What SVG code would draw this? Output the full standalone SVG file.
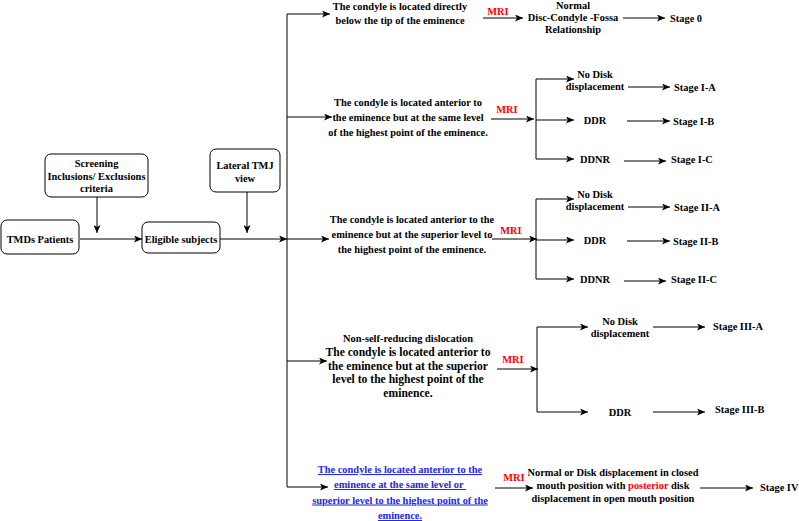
<svg xmlns="http://www.w3.org/2000/svg" width="799" height="521" viewBox="0 0 799 521">
<style>
.t{font-family:"Liberation Serif","Times New Roman",serif;font-weight:bold;font-size:10.4px;fill:#000}
.c{text-anchor:middle}
.m{fill:#ff0000}
.bl{fill:#2626e6;text-decoration:underline}
.big{font-size:11.6px}
.ln{stroke:#000;stroke-width:1;fill:none}
.box{stroke:#000;stroke-width:1;fill:#fff}
</style>
<defs>
<marker id="ah" viewBox="0 0 8 7" refX="8" refY="3.5" markerWidth="8" markerHeight="7" markerUnits="userSpaceOnUse" orient="auto">
<path d="M0,0 L8,3.5 L0,7 L2,3.5 z" fill="#000"/>
</marker>
</defs>
<rect width="799" height="521" fill="#fff"/>

<g id="connectors">
<line class="ln" x1="97" y1="197" x2="97" y2="233" marker-end="url(#ah)"/>
<line class="ln" x1="80" y1="239" x2="142" y2="239" marker-end="url(#ah)"/>
<line class="ln" x1="247" y1="192" x2="247" y2="233" marker-end="url(#ah)"/>
<line class="ln" x1="220" y1="239" x2="287" y2="239" marker-end="url(#ah)"/>
<path class="ln" d="M287,14 L287,487"/>
<line class="ln" x1="287" y1="14" x2="330" y2="14" marker-end="url(#ah)"/>
<line class="ln" x1="287" y1="117" x2="332" y2="117" marker-end="url(#ah)"/>
<line class="ln" x1="287" y1="239" x2="329" y2="239" marker-end="url(#ah)"/>
<line class="ln" x1="287" y1="361" x2="327" y2="361" marker-end="url(#ah)"/>
<line class="ln" x1="287" y1="487" x2="328" y2="487" marker-end="url(#ah)"/>
<!-- branch 1 -->
<line class="ln" x1="483" y1="18" x2="523" y2="18" marker-end="url(#ah)"/>
<line class="ln" x1="623" y1="18" x2="665" y2="18" marker-end="url(#ah)"/>
<!-- branch 2 -->
<line class="ln" x1="491" y1="119" x2="534" y2="119" marker-end="url(#ah)"/>
<path class="ln" d="M536,79 L536,159"/>
<line class="ln" x1="536" y1="79" x2="574" y2="79" marker-end="url(#ah)"/>
<line class="ln" x1="536" y1="120" x2="574" y2="120" marker-end="url(#ah)"/>
<line class="ln" x1="536" y1="159" x2="574" y2="159" marker-end="url(#ah)"/>
<line class="ln" x1="628" y1="87" x2="670" y2="87" marker-end="url(#ah)"/>
<line class="ln" x1="627" y1="121" x2="670" y2="121" marker-end="url(#ah)"/>
<line class="ln" x1="624" y1="161" x2="666" y2="161" marker-end="url(#ah)"/>
<!-- branch 3 -->
<line class="ln" x1="492" y1="239" x2="537" y2="239" marker-end="url(#ah)"/>
<path class="ln" d="M536,199 L536,279"/>
<line class="ln" x1="536" y1="199" x2="574" y2="199" marker-end="url(#ah)"/>
<line class="ln" x1="536" y1="240" x2="574" y2="240" marker-end="url(#ah)"/>
<line class="ln" x1="536" y1="279" x2="574" y2="279" marker-end="url(#ah)"/>
<line class="ln" x1="628" y1="207" x2="670" y2="207" marker-end="url(#ah)"/>
<line class="ln" x1="627" y1="241" x2="670" y2="241" marker-end="url(#ah)"/>
<line class="ln" x1="624" y1="281" x2="666" y2="281" marker-end="url(#ah)"/>
<!-- branch 4 -->
<line class="ln" x1="497" y1="369" x2="538" y2="369" marker-end="url(#ah)"/>
<path class="ln" d="M537,327 L537,412"/>
<line class="ln" x1="537" y1="327" x2="588" y2="327" marker-end="url(#ah)"/>
<line class="ln" x1="537" y1="412" x2="588" y2="412" marker-end="url(#ah)"/>
<line class="ln" x1="653" y1="327" x2="705" y2="327" marker-end="url(#ah)"/>
<line class="ln" x1="653" y1="412" x2="705" y2="412" marker-end="url(#ah)"/>
<!-- branch 5 -->
<line class="ln" x1="495" y1="488" x2="533" y2="488" marker-end="url(#ah)"/>
<line class="ln" x1="700" y1="488" x2="753" y2="488" marker-end="url(#ah)"/>
</g>

<g id="tmds-patients">
<rect class="box" x="1" y="220" width="78" height="34" rx="6"/>
<text class="t c" x="40" y="243">TMDs Patients</text>
</g>
<g id="screening">
<rect class="box" x="45" y="154" width="103" height="43" rx="6"/>
<text class="t c" x="96.5" y="167">Screening</text>
<text class="t c" x="96.5" y="179.5">Inclusions/ Exclusions</text>
<text class="t c" x="96.5" y="192">criteria</text>
</g>
<g id="eligible">
<rect class="box" x="142" y="222" width="78" height="31" rx="6"/>
<text class="t c" x="181" y="242.5">Eligible subjects</text>
</g>
<g id="lateral">
<rect class="box" x="210" y="149" width="70" height="43" rx="6"/>
<text class="t c" x="245" y="169">Lateral TMJ</text>
<text class="t c" x="245" y="181.5">view</text>
</g>

<g id="branch1">
<text class="t c" x="400" y="9.5">The condyle is located directly</text>
<text class="t c" x="400" y="24">below the tip of the eminence</text>
<text class="t c m" x="498" y="15">MRI</text>
<text class="t c" x="573" y="8.5">Normal</text>
<text class="t c" x="573" y="21">Disc-Condyle -Fossa</text>
<text class="t c" x="573" y="33">Relationship</text>
<text class="t" x="670" y="22">Stage 0</text>
</g>

<g id="branch2">
<text class="t c" x="408" y="105.5">The condyle is located anterior to</text>
<text class="t c" x="408" y="120.5">the eminence but at the same level</text>
<text class="t c" x="408" y="135.5">of the highest point of the eminence.</text>
<text class="t c m" x="507" y="113">MRI</text>
<text class="t c" x="595" y="78">No Disk</text>
<text class="t c" x="595" y="90">displacement</text>
<text class="t c" x="595" y="124">DDR</text>
<text class="t c" x="595" y="162.5">DDNR</text>
<text class="t" x="674" y="90.5">Stage I-A</text>
<text class="t" x="673" y="124.5">Stage I-B</text>
<text class="t" x="671" y="162.5">Stage I-C</text>
</g>

<g id="branch3">
<text class="t c" x="412" y="223">The condyle is located anterior to the</text>
<text class="t c" x="412" y="238">eminence but at the superior level to</text>
<text class="t c" x="412" y="253">the highest point of the eminence.</text>
<text class="t c m" x="511" y="234">MRI</text>
<text class="t c" x="595" y="198">No Disk</text>
<text class="t c" x="595" y="210">displacement</text>
<text class="t c" x="595" y="244">DDR</text>
<text class="t c" x="595" y="282.5">DDNR</text>
<text class="t" x="674" y="210.5">Stage II-A</text>
<text class="t" x="673" y="244.5">Stage II-B</text>
<text class="t" x="671" y="282.5">Stage II-C</text>
</g>

<g id="branch4">
<text class="t c" x="408" y="342">Non-self-reducing dislocation</text>
<text class="t c big" x="408" y="356">The condyle is located anterior to</text>
<text class="t c big" x="408" y="369.5">the eminence but at the superior</text>
<text class="t c big" x="408" y="383">level to the highest point of the</text>
<text class="t c big" x="408" y="396.5">eminence.</text>
<text class="t c m" x="513" y="363">MRI</text>
<text class="t c" x="620" y="325">No Disk</text>
<text class="t c" x="620" y="337">displacement</text>
<text class="t c" x="620" y="415.5">DDR</text>
<text class="t" x="713" y="329.5">Stage III-A</text>
<text class="t" x="715" y="413">Stage III-B</text>
</g>

<g id="branch5">
<text class="t c bl" x="400" y="473">The condyle is located anterior to the</text>
<text class="t c bl" x="400" y="488" xml:space="preserve">eminence at the same level or </text>
<text class="t c bl" x="400" y="503.5">superior level to the highest point of the</text>
<text class="t c bl" x="400" y="519">eminence.</text>
<text class="t c m" x="514" y="481">MRI</text>
<text class="t c" x="613" y="476">Normal or Disk displacement in closed</text>
<text class="t c" x="613" y="489">mouth position with <tspan class="m">posterior</tspan> disk</text>
<text class="t c" x="613" y="502">displacement in open mouth position</text>
<text class="t" x="760" y="491">Stage IV</text>
</g>
</svg>
